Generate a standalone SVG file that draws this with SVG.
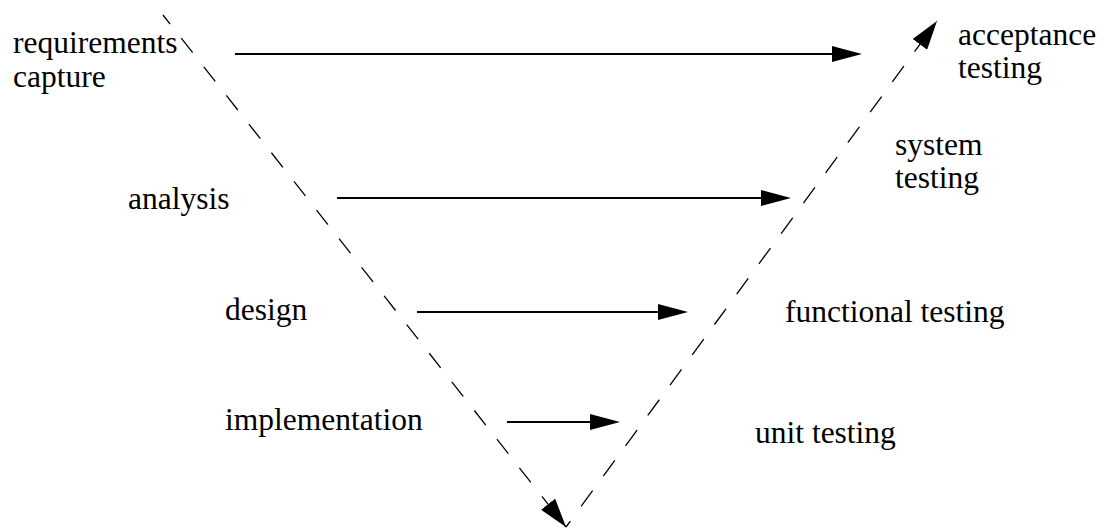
<svg xmlns="http://www.w3.org/2000/svg" width="1104" height="529" viewBox="0 0 1104 529">
<style>
.t{font-family:"Liberation Serif","Times New Roman",serif;font-size:31.5px;fill:#000}
.solid{stroke:#000;stroke-width:2;fill:none}
.dash{stroke:#000;stroke-width:1.3;fill:none}
</style>
<defs>
<marker id="ah" markerWidth="30" markerHeight="16" refX="20" refY="8" orient="auto" markerUnits="userSpaceOnUse">
<path d="M0,0 L30,8 L0,16 Z" fill="#000"/>
</marker>
<marker id="ahd" markerWidth="29" markerHeight="18" refX="29" refY="9" orient="auto" markerUnits="userSpaceOnUse">
<path d="M0,0 L29,9 L0,18 Z" fill="#000"/>
</marker>
</defs>
<g id="connectors">
<line class="dash" x1="163" y1="15" x2="566" y2="527" stroke-dasharray="18.5 17.95" stroke-dashoffset="6.95" marker-end="url(#ahd)"/>
<line class="dash" x1="566" y1="527" x2="937" y2="21" stroke-dasharray="19.5 18.1" stroke-dashoffset="12.1" marker-end="url(#ahd)"/>
<line class="solid" x1="235" y1="54" x2="852" y2="54" marker-end="url(#ah)"/>
<line class="solid" x1="337" y1="198" x2="781" y2="198" marker-end="url(#ah)"/>
<line class="solid" x1="417" y1="312" x2="678" y2="312" marker-end="url(#ah)"/>
<line class="solid" x1="507" y1="422" x2="610" y2="422" marker-end="url(#ah)"/>
</g>
<g class="t">
<g id="requirements"><text x="13" y="53">requirements</text><text x="13" y="87">capture</text></g>
<g id="analysis"><text x="128" y="209">analysis</text></g>
<g id="design"><text x="225" y="320">design</text></g>
<g id="implementation"><text x="225" y="430">implementation</text></g>
<g id="acceptance"><text x="958" y="45">acceptance</text><text x="958" y="78">testing</text></g>
<g id="system"><text x="895" y="155">system</text><text x="895" y="188">testing</text></g>
<g id="functional"><text x="785" y="322">functional testing</text></g>
<g id="unit"><text x="755" y="443">unit testing</text></g>
</g>
</svg>
